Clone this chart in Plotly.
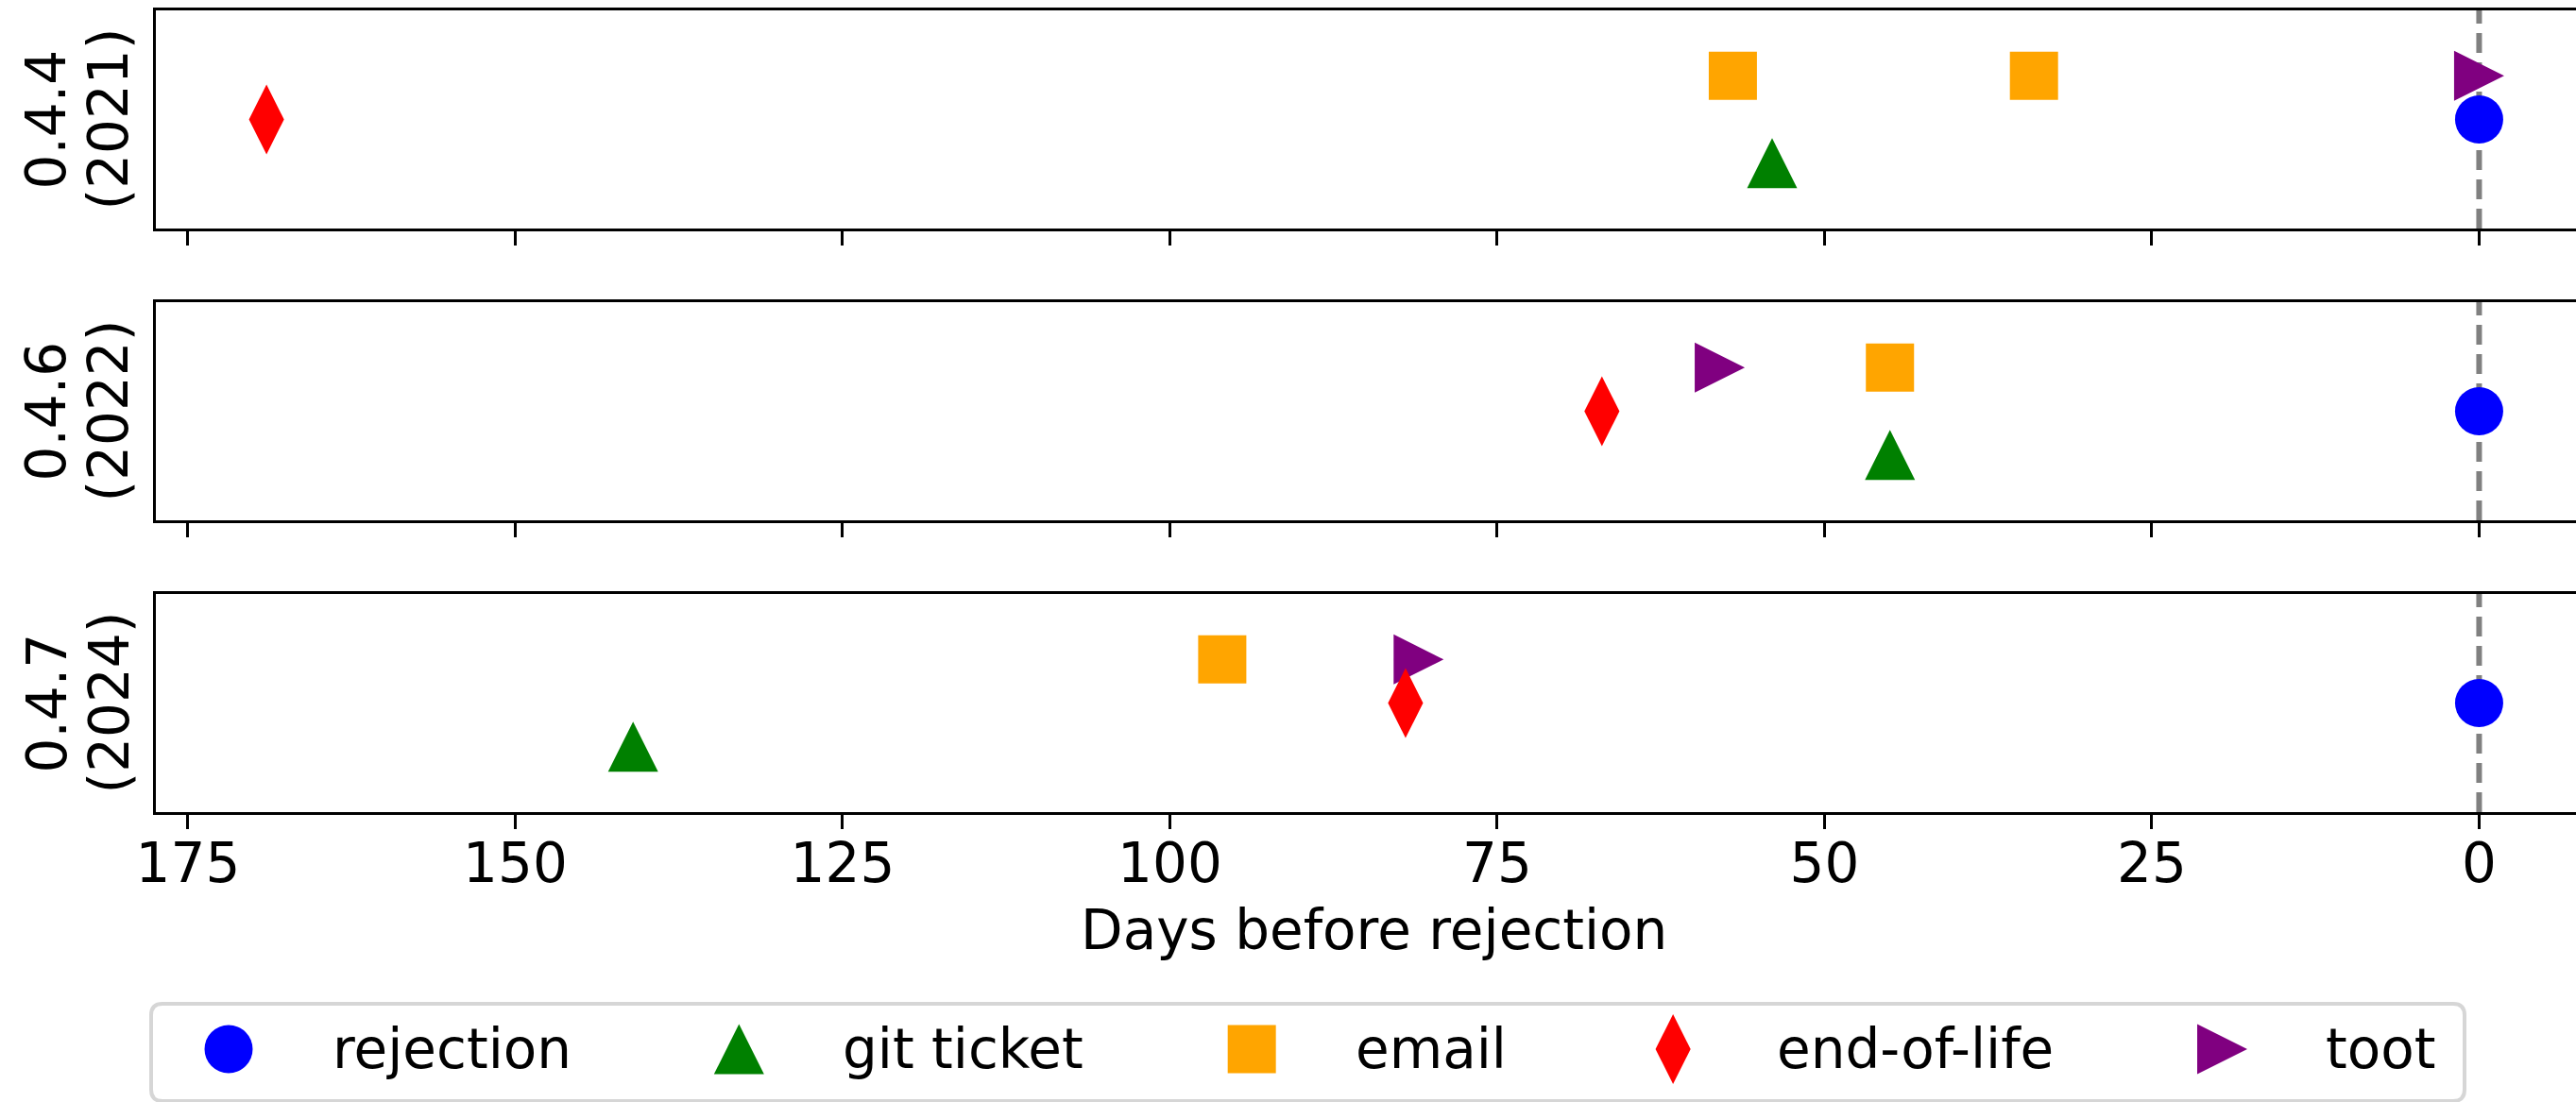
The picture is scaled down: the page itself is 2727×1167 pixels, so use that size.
import plotly.graph_objects as go

# ---------------- data ----------------
RELEASES = ["0.4.4", "0.4.6", "0.4.7"]
YEARS = ["(2021)", "(2022)", "(2024)"]
CATEGORIES = ["rejection", "git ticket", "email", "end-of-life", "toot"]
REJECTION = [[0], [0], [0]]
GIT_TICKET = [[54], [45], [141]]
EMAIL = [[57, 34], [45], [96]]
END_OF_LIFE = [[169], [67], [82]]
TOOT = [[0], [58], [81]]
X_TICKS = [0, 25, 50, 75, 100, 125, 150, 175]
X_LABEL = "Days before rejection"

SERIES = {
    "rejection": REJECTION,
    "git ticket": GIT_TICKET,
    "email": EMAIL,
    "end-of-life": END_OF_LIFE,
    "toot": TOOT,
}

# ---------------- style / layout ----------------
W, H = 2727, 1167
FONT = "DejaVu Sans"
FS = 58
ROW_LEVEL = {"rejection": 0, "git ticket": -1, "email": 1, "end-of-life": 0, "toot": 1}
STYLE = {
    "rejection": dict(symbol="circle", color="blue", size=51),
    "git ticket": dict(symbol="arrow-down", angle=180, color="green", size=53),
    "email": dict(symbol="square", color="orange", size=51),
    "end-of-life": dict(symbol="diamond-tall", color="red", size=53),
    "toot": dict(symbol="arrow-down", angle=-90, color="purple", size=53),
}
DRAW_ORDER = ["toot", "email", "git ticket", "end-of-life", "rejection"]

LEFT = 165
PANEL_TOP0, PANEL_H, PANEL_STEP = 11, 231, 309
X_RANGE = [177.45, -7.4]
Y_RANGE = [-2.5, 2.5]


def marker_for(cat):
    st = STYLE[cat]
    m = dict(symbol=st["symbol"], color=st["color"], size=st["size"], line=dict(width=0))
    if "angle" in st:
        m["angle"] = st["angle"]
        m["standoff"] = st["size"] / 2
    return m


fig = go.Figure()
n = len(RELEASES)
layout = {}
shapes = []
annotations = []

for i in range(n):
    k = "" if i == 0 else str(i + 1)
    xa, ya = "x" + k, "y" + k
    for cat in DRAW_ORDER:
        xs = SERIES[cat][i]
        fig.add_trace(go.Scatter(
            x=xs, y=[ROW_LEVEL[cat]] * len(xs), mode="markers",
            marker=marker_for(cat), xaxis=xa, yaxis=ya,
            showlegend=False, hoverinfo="skip", cliponaxis=False))
    top = PANEL_TOP0 + i * PANEL_STEP
    bot = top + PANEL_H
    layout["xaxis" + k] = dict(
        domain=[LEFT / W, 1], range=X_RANGE, anchor=ya,
        showline=True, linecolor="black", linewidth=3, mirror=True,
        ticks="outside", ticklen=15, tickwidth=3, tickcolor="black",
        tickmode="array", tickvals=X_TICKS, ticktext=[str(v) for v in X_TICKS],
        showticklabels=(i == n - 1), ticklabelstandoff=-14,
        tickfont=dict(family=FONT, size=FS, color="black"),
        showgrid=False, zeroline=False, fixedrange=True, automargin=False)
    layout["yaxis" + k] = dict(
        domain=[1 - bot / H, 1 - top / H], range=Y_RANGE, anchor=xa,
        showline=True, linecolor="black", linewidth=3, mirror=False,
        ticks="", showticklabels=False, showgrid=False, zeroline=False,
        fixedrange=True, automargin=False)
    # dashed reference line at rejection day
    shapes.append(dict(
        type="line", xref=xa, yref=ya + " domain", x0=0, x1=0, y0=0, y1=1,
        line=dict(color="gray", width=6, dash="21px,10px"), layer="below"))
    # y labels (two lines, rotated)
    yc = 1 - (top + bot) / 2 / H
    for txt, px in ((RELEASES[i], 49), (YEARS[i], 115)):
        annotations.append(dict(
            text=txt, xref="paper", yref="paper", x=px / W, y=yc,
            xanchor="center", yanchor="middle", textangle=-90, showarrow=False,
            font=dict(family=FONT, size=FS, color="black")))

# x axis label
annotations.append(dict(
    text=X_LABEL, xref="paper", yref="paper", x=1454 / W, y=1 - 985 / H,
    xanchor="center", yanchor="middle", showarrow=False,
    font=dict(family=FONT, size=FS, color="black")))

# ---------------- custom legend ----------------
DEJAVU_W = {"a": 1255, "b": 1300, "c": 1126, "d": 1300, "e": 1260, "f": 721, "g": 1300,
            "i": 569, "j": 569, "k": 1186, "l": 569, "m": 1995, "n": 1298, "o": 1253,
            "r": 842, "s": 1067, "t": 803, " ": 651, "-": 739}


def text_w(s):
    return sum(DEJAVU_W.get(c, 1200) for c in s) / 2048 * FS


LEG_BOX = (160, 1063, 2609, 1166)
LEG_Y = 1111
LEG_X0, HANDLE_TO_TEXT, COL_GAP = 242, 108, 178
leg_y_dom = [1 - (LEG_Y + 30) / H, 1 - (LEG_Y - 30) / H]
layout["xaxis4"] = dict(domain=[0, 1], range=[0, W], visible=False, anchor="y4", fixedrange=True)
layout["yaxis4"] = dict(domain=leg_y_dom, range=[0, 1], visible=False, anchor="x4", fixedrange=True)

x = LEG_X0
for cat in CATEGORIES:
    fig.add_trace(go.Scatter(
        x=[x], y=[0.5], mode="markers", marker=marker_for(cat),
        xaxis="x4", yaxis="y4", showlegend=False, hoverinfo="skip", cliponaxis=False))
    annotations.append(dict(
        text=cat, xref="x4", yref="y4", x=x + HANDLE_TO_TEXT, y=0.5,
        xanchor="left", yanchor="middle", showarrow=False,
        font=dict(family=FONT, size=FS, color="black")))
    x = x + HANDLE_TO_TEXT + text_w(cat) + COL_GAP

# legend frame (rounded rectangle)
x0, y0, x1, y1 = LEG_BOX
r = 12


def P(px, py):
    return f"{px / W:.6f},{1 - py / H:.6f}"


path = (f"M{P(x0 + r, y0)} L{P(x1 - r, y0)} Q{P(x1, y0)} {P(x1, y0 + r)} "
        f"L{P(x1, y1 - r)} Q{P(x1, y1)} {P(x1 - r, y1)} L{P(x0 + r, y1)} "
        f"Q{P(x0, y1)} {P(x0, y1 - r)} L{P(x0, y0 + r)} Q{P(x0, y0)} {P(x0 + r, y0)} Z")
shapes.append(dict(type="path", xref="paper", yref="paper", path=path,
                   line=dict(color="#d6d6d6", width=4), fillcolor="rgba(255,255,255,0.8)",
                   layer="below"))

fig.update_layout(
    width=W, height=H, margin=dict(l=0, r=0, t=0, b=0, pad=0, autoexpand=False),
    paper_bgcolor="white", plot_bgcolor="white",
    font=dict(family=FONT, size=FS, color="black"),
    showlegend=False, shapes=shapes, annotations=annotations, **layout)

fig.write_html(
    "out.html",
    config={"displayModeBar": False, "staticPlot": True},
    post_script="document.body.style.margin='0px';document.body.style.overflow='hidden';")
